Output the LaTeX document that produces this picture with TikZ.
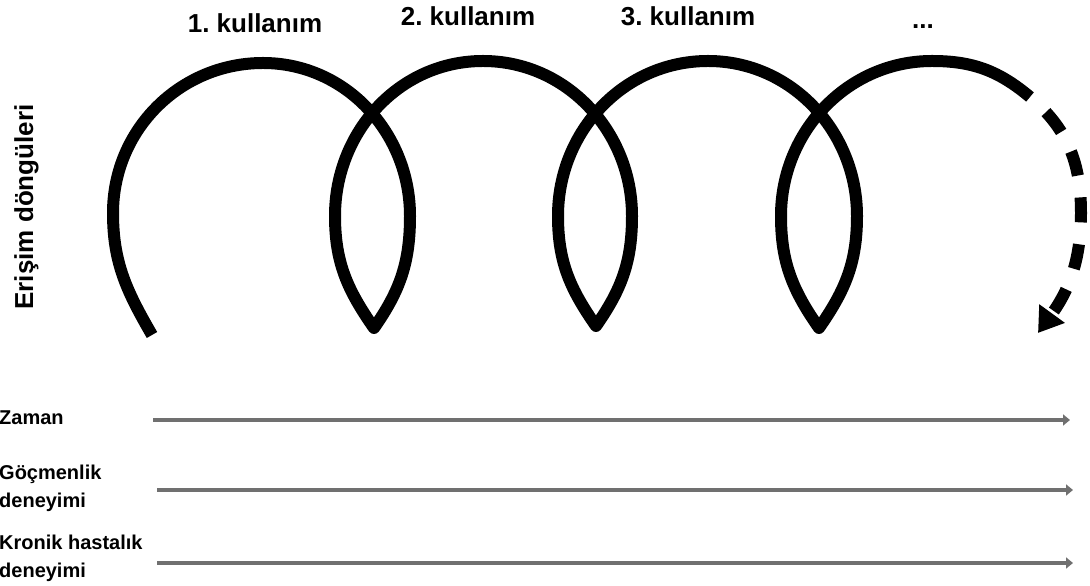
\documentclass[tikz,border=0pt]{standalone}
\usepackage{fontspec}
\setmainfont{Liberation Sans}
\usetikzlibrary{arrows.meta}
\definecolor{linegray}{HTML}{707070}
\tikzset{
  loopline/.style={
    draw=black,
    line width=12pt,
    line join=round
  },
  loopdash/.style={
    loopline,
    dash pattern=on 25pt off 22pt,
    dash phase=25pt,
    -{Triangle[length=24pt,width=30pt]}
  },
  uselabel/.style={
    anchor=base,
    inner sep=0pt,
    font=\fontsize{26}{30}\selectfont\bfseries\frenchspacing
  },
  sidelabel/.style={
    inner sep=0pt,
    align=left,
    font=\fontsize{20}{28}\selectfont\bfseries
  },
  timeline/.style={-{Triangle[length=7pt,width=11pt]},line width=4.5pt,draw=linegray}
}

\begin{document}
\begin{tikzpicture}[x=1pt,y=1pt]
\useasboundingbox (0,0) rectangle (1090,586);
% the coil of access cycles
\draw[loopline] (152,251) to[out=120,in=-90] (113,373) to[out=90,in=180] (263,523)
  to[out=0,in=90] (410,370) to[out=-90,in=55] (374,258)
  to[out=125,in=-90] (335,370) to[out=90,in=180] (483,525)
  to[out=0,in=90] (632,370) to[out=-90,in=55] (596,260)
  to[out=125,in=-90] (558,370) to[out=90,in=180] (708,525)
  to[out=0,in=90] (857,370) to[out=-90,in=55] (819,258)
  to[out=125,in=-90] (781,370) to[out=90,in=180] (932,525)
  to[out=0,in=140] (1030,489) coordinate (coilend);
\draw[loopdash] (coilend) to[out=-40,in=90] (1081,373) to[out=-90,in=54] (1038,253);

\node[uselabel] (use1) at (255,553) {1. kullanım};
\node[uselabel] (use2) at (468,560) {2. kullanım};
\node[uselabel] (use3) at (688,560) {3. kullanım};
\node[uselabel] (usemore) at (923,557) {...};
\node[uselabel,rotate=90,font=\fontsize{26}{30}\selectfont\bfseries] (cycles) at (33,379) {Erişim döngüleri};

% time lines
\node[sidelabel,anchor=base west] (zaman) at (-1,161) {Zaman};
\node[sidelabel,anchor=north west] (migrant) at (-1,121) {Göçmenlik\\deneyimi};
\node[sidelabel,anchor=north west] (chronic) at (-1,51) {Kronik hastalık\\deneyimi};
\coordinate (zamanA) at (153,166);
\coordinate (zamanB) at (1070,166);
\coordinate (migrantA) at (157,96);
\coordinate (migrantB) at (1073,96);
\coordinate (chronicA) at (157,23);
\coordinate (chronicB) at (1073,23);
\draw[timeline] (zamanA) -- (zamanB);
\draw[timeline] (migrantA) -- (migrantB);
\draw[timeline] (chronicA) -- (chronicB);
\end{tikzpicture}
\end{document}
